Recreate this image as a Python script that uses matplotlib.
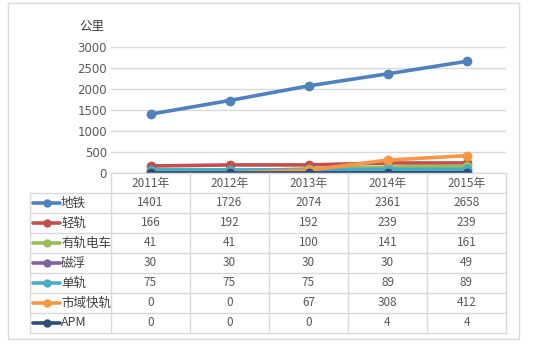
import matplotlib
matplotlib.use("Agg")
import matplotlib.pyplot as plt
from matplotlib.patches import Rectangle

plt.rcParams['font.family'] = ['Noto Sans CJK SC', 'DejaVu Sans']

years = ["2011年", "2012年", "2013年", "2014年", "2015年"]
series_names = ["地铁", "轻轨", "有轨电车", "磁浮", "单轨", "市域快轨", "APM"]
subway = [1401, 1726, 2074, 2361, 2658]
light_rail = [166, 192, 192, 239, 239]
tram = [41, 41, 100, 141, 161]
maglev = [30, 30, 30, 30, 49]
monorail = [75, 75, 75, 89, 89]
suburban = [0, 0, 67, 308, 412]
apm = [0, 0, 0, 4, 4]
values = [subway, light_rail, tram, maglev, monorail, suburban, apm]
colors = ["#4F81BD", "#C0504D", "#9BBB59", "#8064A2", "#4BACC6", "#F79646", "#2C4D75"]

W, H = 547, 348
fig = plt.figure(figsize=(W / 100, H / 100), dpi=100)

def box(x0, y0, x1, y1):
    # pixel box (top-left origin) -> figure rect
    return [x0 / W, 1 - y1 / H, (x1 - x0) / W, (y1 - y0) / H]

grid_c = "#D9D9D9"
txt_c = "#595959"

# outer chart border
fig.patches.append(Rectangle((8 / W, 1 - 339 / H), 511 / W, 336 / H,
                             transform=fig.transFigure, fill=False,
                             edgecolor=grid_c, linewidth=1))

# line chart
ax = fig.add_axes(box(111, 47, 506, 173))
xs = range(len(years))
for name, v, c in zip(series_names, values, colors):
    ax.plot(xs, v, color=c, linewidth=2.6, marker="o", markersize=6,
            solid_capstyle="round", zorder=3)
ax.set_xlim(-0.5, len(years) - 0.5)
ax.set_ylim(0, 3000)
ax.set_yticks(range(0, 3001, 500))
ax.set_xticks([])
ax.grid(axis="y", color=grid_c, linewidth=1)
ax.set_axisbelow(True)
for s in ax.spines.values():
    s.set_visible(False)
ax.tick_params(axis="y", length=0, pad=3, labelsize=8.5, labelcolor=txt_c)
for lab in ax.get_yticklabels():
    lab.set_fontfamily(['DejaVu Sans'])
fig.text(92 / W, 1 - 26 / H, "公里", ha="center", va="center", fontsize=9, color="#404040")

# data table under the chart
tx = fig.add_axes(box(30, 173, 506, 333))
col_w = 79.0
left = -0.5 - 81 / col_w
tx.set_xlim(left, len(years) - 0.5)
tx.set_ylim(len(series_names) + 1, 0)
tx.axis("off")
nrows = len(series_names) + 1
tx.plot([-0.5, len(years) - 0.5], [0, 0], color=grid_c, lw=1, clip_on=False)
for r in range(1, nrows + 1):
    tx.plot([left, len(years) - 0.5], [r, r], color=grid_c, lw=1, clip_on=False)
tx.plot([left, left], [1, nrows], color=grid_c, lw=1, clip_on=False)
for c in range(len(years) + 1):
    tx.plot([c - 0.5, c - 0.5], [0, nrows], color=grid_c, lw=1, clip_on=False)

for i, y in enumerate(years):
    tx.text(i, 0.55, y, ha="center", va="center", fontsize=8.5, color=txt_c)

for r, (name, v, c) in enumerate(zip(series_names, values, colors), start=1):
    k0, k1 = left + 3 / col_w, left + 30 / col_w
    tx.plot([k0, k1], [r + 0.5, r + 0.5], color=c, lw=2.6, solid_capstyle="round")
    tx.plot([(k0 + k1) / 2], [r + 0.5], "o", color=c, markersize=5)
    tx.text(left + 31 / col_w, r + 0.5, name, ha="left", va="center",
            fontsize=9, color="#404040")
    for i, val in enumerate(v):
        tx.text(i, r + 0.5, str(val), ha="center", va="center", fontsize=8.5, color=txt_c)

fig.savefig("out.png", dpi=100)
